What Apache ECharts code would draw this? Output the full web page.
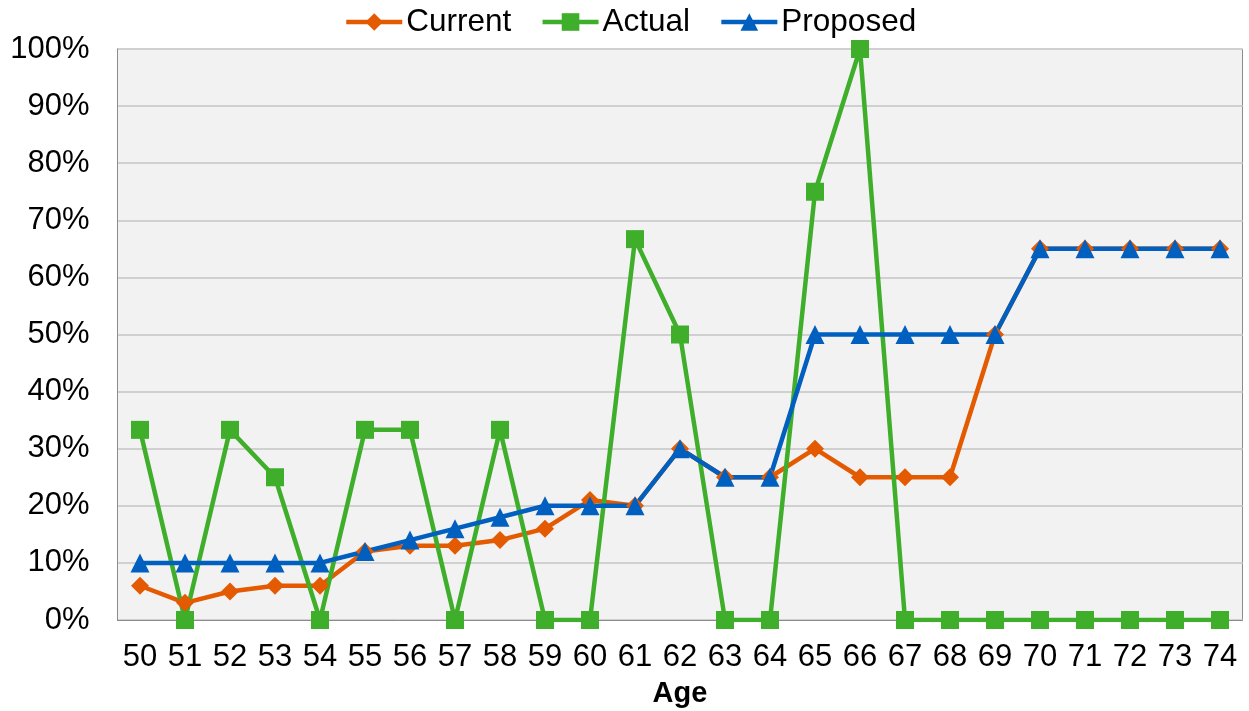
<!DOCTYPE html>
<html>
<head>
<meta charset="utf-8">
<script src="https://cdn.jsdelivr.net/npm/echarts@6/dist/echarts.min.js"></script>
<style>
  html, body { margin: 0; padding: 0; background: #fff; }
  #chart { width: 1249px; height: 711px; }
</style>
</head>
<body>
<div id="chart"></div>
<script>
// ages on the x axis
var ages = ['50', '51', '52', '53', '54', '55', '56', '57', '58', '59', '60', '61',
  '62', '63', '64', '65', '66', '67', '68', '69', '70', '71', '72', '73', '74']

// values in percent
var currentData = [6, 3, 5, 6, 6, 12, 13, 13, 14, 16, 21, 20, 30, 25, 25, 30, 25, 25, 25, 50, 65, 65, 65, 65, 65]
var actualData = [33.3, 0, 33.3, 25, 0, 33.3, 33.3, 0, 33.3, 0, 0, 66.7, 50, 0, 0, 75, 100, 0, 0, 0, 0, 0, 0, 0, 0]
var proposedData = [10, 10, 10, 10, 10, 12, 14, 16, 18, 20, 20, 20, 30, 25, 25, 50, 50, 50, 50, 50, 65, 65, 65, 65, 65]

var font = 'Arial, "Liberation Sans", sans-serif'

var chart = echarts.init(document.getElementById('chart'))

function lineSeries(name, data, color, symbol, size) {
  return {
    name: name,
    type: 'line',
    data: data,
    symbol: symbol,
    symbolSize: size,
    showAllSymbol: true,
    lineStyle: { color: color, width: 4.5 },
    itemStyle: { color: color },
    emphasis: { disabled: true },
    animation: false
  }
}

chart.setOption({
  textStyle: { fontFamily: font },
  legend: {
    top: 6,
    left: 344,
    padding: 0,
    itemWidth: 56,
    itemHeight: 22,
    itemGap: 29,
    textStyle: { fontSize: 31.5, color: '#000', fontFamily: font, padding: [0, 0, 0, -1] },
    lineStyle: { width: 4.5 },
    data: ['Current', 'Actual', 'Proposed']
  },
  grid: {
    left: 117.5,
    right: 6.5,
    top: 49,
    bottom: 91,
    outerBoundsMode: 'none',
    show: true,
    backgroundColor: '#f2f2f2',
    borderColor: '#8c8c8c',
    borderWidth: 1
  },
  xAxis: {
    type: 'category',
    data: ages,
    boundaryGap: true,
    name: 'Age',
    nameLocation: 'middle',
    nameGap: 59,
    nameTextStyle: { fontSize: 29, fontWeight: 'bold', color: '#000', fontFamily: font },
    axisLine: { show: true, lineStyle: { color: '#8c8c8c', width: 1 } },
    axisTick: { show: false },
    axisLabel: { fontSize: 31, color: '#000', margin: 22, interval: 0, fontFamily: font },
    splitLine: { show: false }
  },
  yAxis: {
    type: 'value',
    min: 0,
    max: 100,
    interval: 10,
    axisLine: { show: true, lineStyle: { color: '#8c8c8c', width: 1 } },
    axisTick: { show: false },
    axisLabel: { fontSize: 31, color: '#000', margin: 28, formatter: '{value}%', fontFamily: font },
    splitLine: { show: true, lineStyle: { color: '#d0d0d0', width: 2 } }
  },
  series: [
    lineSeries('Current', currentData, '#e35a00', 'diamond', 18),
    lineSeries('Actual', actualData, '#3fae2a', 'rect', 18),
    lineSeries('Proposed', proposedData, '#005fbf', 'triangle', 19)
  ]
})
</script>
</body>
</html>
